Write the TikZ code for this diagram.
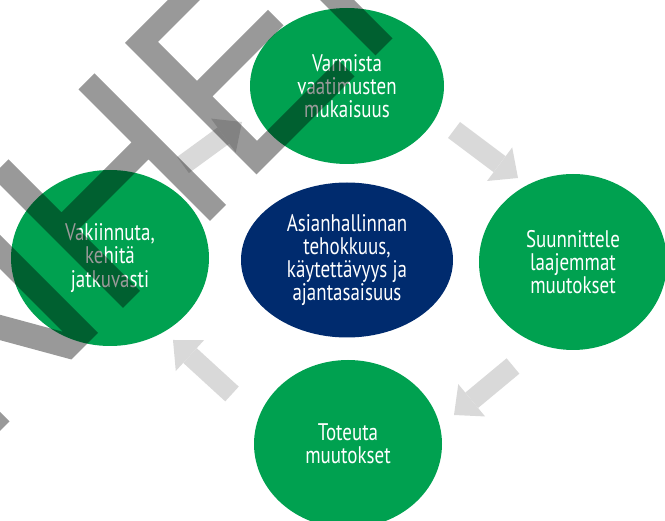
\documentclass[tikz,border=0pt]{standalone}
\usepackage{fontspec}
\setmainfont{PT Sans}[FakeStretch=0.79]
\usetikzlibrary{shapes.geometric,arrows.meta}
\definecolor{stepgreen}{RGB}{0,161,80}
\definecolor{corenavy}{RGB}{0,43,110}
\definecolor{flowgrey}{RGB}{217,217,217}

\begin{document}
\begin{tikzpicture}[x=1pt,y=-1pt,
		phase/.style={ellipse, fill=stepgreen, inner sep=0pt, text=white, align=center,
			font=\fontsize{24}{23.3}\selectfont},
		core/.style={phase, fill=corenavy},
		flow/.style={draw=flowgrey, line width=20pt,
			-{Triangle[length=23pt,width=42pt,line width=0pt,fill=flowgrey]}},
		stamp/.style={fill=black, opacity=0.4}]
	\useasboundingbox (0,0) rectangle (665,521);

	\node[phase, minimum width=194pt, minimum height=156pt] (varmista) at (347,86) {Varmista\\vaatimusten\\mukaisuus};
	\node[phase, minimum width=188pt, minimum height=176pt] (suunnittele) at (573,262) {Suunnittele\\laajemmat\\muutokset};
	\node[phase, minimum width=188pt, minimum height=168pt] (toteuta) at (348,444) {Toteuta\\muutokset};
	\node[phase, minimum width=198pt, minimum height=176pt] (vakiinnuta) at (110,258) {Vakiinnuta,\\kehitä\\jatkuvasti};
	\node[core, minimum width=212pt, minimum height=155pt] (asia) at (347,260) {Asianhallinnan\\tehokkuus,\\käytettävyys ja\\ajantasaisuus};

	\coordinate (f1a) at (183,165); \coordinate (f1b) at (242,122);
	\coordinate (f2a) at (454,130); \coordinate (f2b) at (518,178);
	\coordinate (f3a) at (513,366); \coordinate (f3b) at (454,415);
	\coordinate (f4a) at (232,394); \coordinate (f4b) at (173,340);
	\draw[flow] (f1a) -- (f1b);
	\draw[flow] (f2a) -- (f2b);
	\draw[flow] (f3a) -- (f3b);
	\draw[flow] (f4a) -- (f4b);

	% leimateksti vinossa
	\begin{scope}[rotate=45, scale=0.7071]
		\foreach \dx in {0,766}
			\fill[stamp, shift={(\dx,0)}] (-446,168) -- (-399,168) -- (-269,394.5) -- (-269,168) -- (-235,168)
				-- (-235,431) -- (-288,431) -- (-412,215) -- (-412,431) -- (-446,431) -- cycle;
		\fill[stamp] (-185,168) -- (-151,168) -- (-151,274) -- (-11,274) -- (-11,168) -- (21,168)
			-- (21,431) -- (-11,431) -- (-11,308) -- (-151,308) -- (-151,431) -- (-185,431) -- cycle;
		\fill[stamp] (82,168) -- (280,168) -- (280,200) -- (116,200) -- (116,278) -- (258,278)
			-- (258,309) -- (116,309) -- (116,398) -- (278,398) -- (278,431) -- (82,431) -- cycle;
	\end{scope}
\end{tikzpicture}
\end{document}
